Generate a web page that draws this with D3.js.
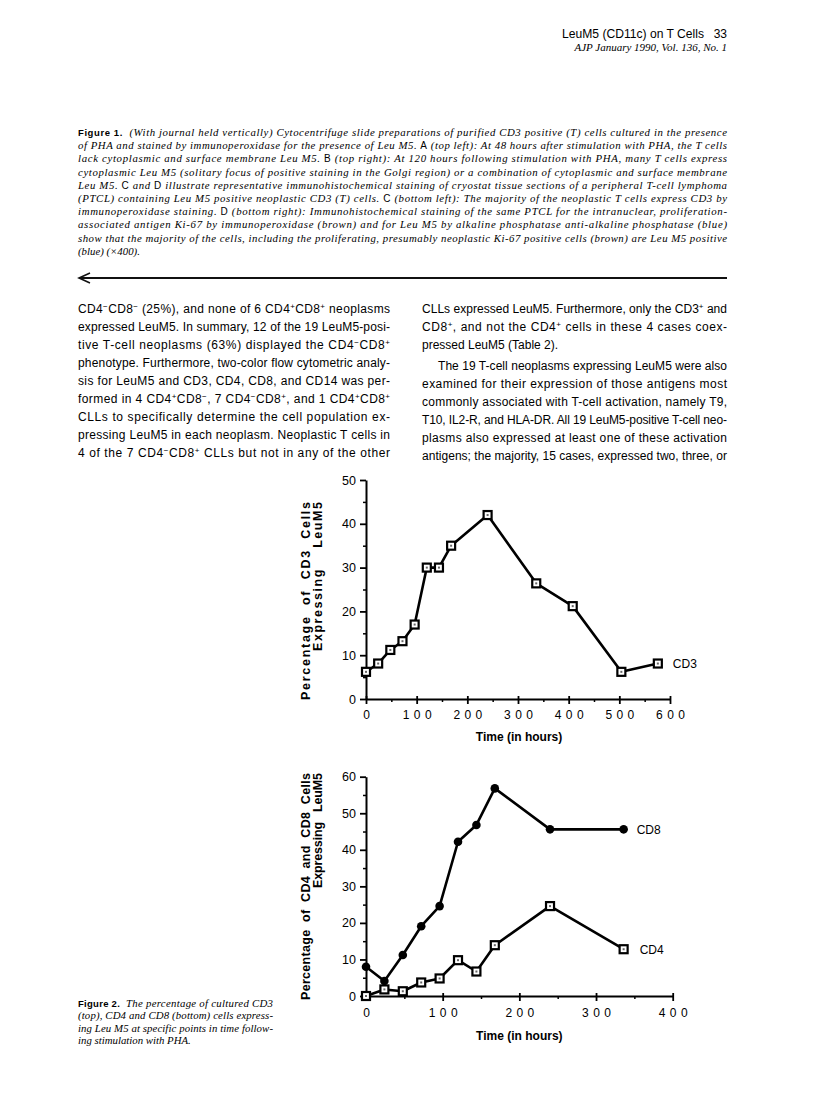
<!DOCTYPE html>
<html><head><meta charset="utf-8">
<script src="https://cdn.jsdelivr.net/npm/d3@7"></script>
<style>
body{margin:0;background:#fff;}
svg{display:block;}
.pre{white-space:pre;}
</style></head>
<body>
<svg id="page" width="816" height="1110"></svg>
<script>
// ---------- data ----------
const cd3Hours = [0, 24, 48, 72, 96, 120, 144, 168, 240, 336, 408, 504, 576];
const cd3Pct   = [6.2, 8.1, 11.2, 13.2, 17, 30, 30, 35, 42, 26.4, 21.2, 6.2, 8.1];
const cd48Hours = [0, 24, 48, 72, 96, 120, 144, 168, 240, 336];
const cd8Pct   = [8, 4.1, 11.2, 19.1, 24.6, 42.2, 46.8, 56.8, 45.6, 45.6];
const cd4Pct   = [0, 1.8, 1.3, 3.7, 4.8, 9.8, 6.7, 13.9, 24.6, 12.8];
const xTicksTop = [0, 100, 200, 300, 400, 500, 600];
const xMinorTop = [50, 150, 250, 350, 450, 550];
const yTicksTop = [0, 10, 20, 30, 40, 50];
const yMinorTop = [5, 15, 25, 35, 45];
const xTicksBottom = [0, 100, 200, 300, 400];
const xMinorBottom = [50, 150, 250, 350];
const yTicksBottom = [0, 10, 20, 30, 40, 50, 60];
const yMinorBottom = [5, 15, 25, 35, 45, 55];

// ---------- text ----------
const headerTitle = "LeuM5 (CD11c) on T Cells";
const headerPage = "33";
const headerJournal = "AJP January 1990, Vol. 136, No. 1";
const fig1Caption = [
  [["b","Figure 1."],["i","  (With journal held vertically) Cytocentrifuge slide preparations of purified CD3 positive (T) cells cultured in the presence"]],
  [["i","of PHA and stained by immunoperoxidase for the presence of Leu M5. "],["s","A"],["i"," (top left): At 48 hours after stimulation with PHA, the T cells"]],
  [["i","lack cytoplasmic and surface membrane Leu M5. "],["s","B"],["i"," (top right): At 120 hours following stimulation with PHA, many T cells express"]],
  [["i","cytoplasmic Leu M5 (solitary focus of positive staining in the Golgi region) or a combination of cytoplasmic and surface membrane"]],
  [["i","Leu M5. "],["s","C"],["i"," and "],["s","D"],["i"," illustrate representative immunohistochemical staining of cryostat tissue sections of a peripheral T-cell lymphoma"]],
  [["i","(PTCL) containing Leu M5 positive neoplastic CD3 (T) cells. "],["s","C"],["i"," (bottom left): The majority of the neoplastic T cells express CD3 by"]],
  [["i","immunoperoxidase staining. "],["s","D"],["i"," (bottom right): Immunohistochemical staining of the same PTCL for the intranuclear, proliferation-"]],
  [["i","associated antigen Ki-67 by immunoperoxidase (brown) and for Leu M5 by alkaline phosphatase anti-alkaline phosphatase (blue)"]],
  [["i","show that the majority of the cells, including the proliferating, presumably neoplastic Ki-67 positive cells (brown) are Leu M5 positive"]],
  [["i","(blue) (×400)."]]
];
const leftColumn = [
  "CD4⁻CD8⁻ (25%), and none of 6 CD4⁺CD8⁺ neoplasms",
  "expressed LeuM5. In summary, 12 of the 19 LeuM5-posi-",
  "tive T-cell neoplasms (63%) displayed the CD4⁻CD8⁺",
  "phenotype. Furthermore, two-color flow cytometric analy-",
  "sis for LeuM5 and CD3, CD4, CD8, and CD14 was per-",
  "formed in 4 CD4⁺CD8⁻, 7 CD4⁻CD8⁺, and 1 CD4⁺CD8⁺",
  "CLLs to specifically determine the cell population ex-",
  "pressing LeuM5 in each neoplasm. Neoplastic T cells in",
  "4 of the 7 CD4⁻CD8⁺ CLLs but not in any of the other"
];
const rightColumn = [
  "CLLs expressed LeuM5. Furthermore, only the CD3⁺ and",
  "CD8⁺, and not the CD4⁺ cells in these 4 cases coex-",
  "pressed LeuM5 (Table 2).",
  "The 19 T-cell neoplasms expressing LeuM5 were also",
  "examined for their expression of those antigens most",
  "commonly associated with T-cell activation, namely T9,",
  "T10, IL2-R, and HLA-DR. All 19 LeuM5-positive T-cell neo-",
  "plasms also expressed at least one of these activation",
  "antigens; the majority, 15 cases, expressed two, three, or"
];
const fig2Caption = [
  [["b","Figure 2."],["i","  The percentage of cultured CD3"]],
  [["i","(top), CD4 and CD8 (bottom) cells express-"]],
  [["i","ing Leu M5 at specific points in time follow-"]],
  [["i","ing stimulation with PHA."]]
];

const svg = d3.select("#page");
const SANS = "'Liberation Sans', Arial, Helvetica, sans-serif";
const SERIF = "'Liberation Serif', 'Times New Roman', serif";

// header
svg.append("text").attr("x", 727).attr("y", 38).attr("text-anchor","end")
  .style("font-family", SANS).style("font-size","12px").text(headerPage);
svg.append("text").attr("x", 704).attr("y", 38).attr("text-anchor","end")
  .style("font-family", SANS).style("font-size","12px").attr("textLength", 142).attr("lengthAdjust","spacingAndGlyphs").text(headerTitle);
svg.append("text").attr("x", 727).attr("y", 51).attr("text-anchor","end")
  .style("font-family", SERIF).style("font-style","italic").style("font-size","11px").text(headerJournal);

function richLine(x, y, width, segs, justify) {
  const t = svg.append("text").attr("x", x).attr("y", y).attr("class","pre");
  segs.forEach(([k, s]) => {
    const ts = t.append("tspan").text(s);
    if (k === "b") ts.style("font-family", SANS).style("font-weight","bold").style("font-size","9.5px");
    else if (k === "s") ts.style("font-family", SANS).style("font-size","10px");
    else ts.style("font-family", SERIF).style("font-style","italic").style("font-size","10.8px");
  });
  if (justify) t.attr("textLength", width).attr("lengthAdjust","spacing");
  return t;
}
fig1Caption.forEach((segs, i) => {
  richLine(78, 136 + i * 13.2, 649, segs, i < fig1Caption.length - 1);
});
fig2Caption.forEach((segs, i) => {
  richLine(78, 1006.5 + i * 12.6, 195, segs, i < fig2Caption.length - 1);
});

// arrow
svg.append("line").attr("x1", 80).attr("x2", 727).attr("y1", 278).attr("y2", 278)
  .attr("stroke","#111").attr("stroke-width", 2);
svg.append("path").attr("d","M90,273 L79,278 L90,283").attr("fill","none")
  .attr("stroke","#111").attr("stroke-width", 1.6);

// body text with superscripts
function bodyLine(x, y, width, str, justify, indent) {
  const t = svg.append("text").attr("x", x + (indent||0)).attr("y", y)
    .style("font-family", SANS).style("font-size","12px");
  const parts = str.split(/([⁺⁻])/);
  let sup = false;
  parts.forEach(p => {
    if (p === "") return;
    if (p === "⁺" || p === "⁻") {
      t.append("tspan").attr("dy", sup ? 0 : -4.5).style("font-size","8px").text(p === "⁺" ? "+" : "−");
      sup = true;
    } else {
      t.append("tspan").attr("dy", sup ? 4.5 : 0).text(p);
      sup = false;
    }
  });
  if (justify) t.attr("textLength", width - (indent||0)).attr("lengthAdjust","spacing");
}
leftColumn.forEach((s, i) => bodyLine(78, 313 + i * 18, 312, s, true, 0));
rightColumn.forEach((s, i) => {
  const y = 313 + i * 18 + (i >= 3 ? 3 : 0);
  bodyLine(422, y, 305, s, i !== 2, i === 3 ? 16 : 0);
});

// ---------- charts ----------
function drawChart(cfg) {
  const g = svg.append("g");
  const x = d3.scaleLinear().domain(cfg.xDomain).range(cfg.xRange);
  const y = d3.scaleLinear().domain(cfg.yDomain).range(cfg.yRange);
  const x0 = cfg.xRange[0], yb = cfg.yRange[0];

  // minor ticks
  g.append("g").attr("transform", `translate(0,${yb})`)
    .call(d3.axisBottom(x).tickValues(cfg.xMinor).tickSize(3).tickFormat(""))
    .call(a => a.select(".domain").remove())
    .selectAll("line").attr("stroke","#000").attr("stroke-width",1.5);
  g.append("g").attr("transform", `translate(${x0},0)`)
    .call(d3.axisLeft(y).tickValues(cfg.yMinor).tickSize(3).tickFormat(""))
    .call(a => a.select(".domain").remove())
    .selectAll("line").attr("stroke","#000").attr("stroke-width",1.5);

  // major axes
  const xa = g.append("g").attr("transform", `translate(0,${yb})`)
    .call(d3.axisBottom(x).tickValues(cfg.xTicks).tickSize(5).tickSizeOuter(0).tickFormat(d3.format("d")));
  xa.select(".domain").attr("stroke","#000").attr("stroke-width",2);
  xa.selectAll(".tick line").attr("stroke","#000").attr("stroke-width",1.8).attr("y1",-3);
  xa.selectAll(".tick text").attr("y", cfg.xLabelOffset).attr("dy", 0).attr("dx", 2.2)
    .style("font-family", SANS).style("font-size","12px").style("letter-spacing","4.4px").attr("fill","#000");

  const ya = g.append("g").attr("transform", `translate(${x0},0)`)
    .call(d3.axisLeft(y).tickValues(cfg.yTicks).tickSize(6).tickSizeOuter(0).tickPadding(4).tickFormat(d3.format("d")));
  ya.select(".domain").attr("stroke","#000").attr("stroke-width",2);
  ya.selectAll(".tick line").attr("stroke","#000").attr("stroke-width",1.8);
  ya.selectAll(".tick text").style("font-family", SANS).style("font-size","12.5px").attr("fill","#000");

  // axis titles
  g.append("text").attr("x", (cfg.xRange[0] + cfg.xRange[1]) / 2 + cfg.xTitleDx).attr("y", yb + cfg.xTitleOffset)
    .attr("text-anchor","middle").style("font-family", SANS).style("font-weight","bold").style("font-size","12px")
    .text("Time (in hours)");
  cfg.yTitle.forEach((line, i) => {
    g.append("text").attr("class","pre").attr("transform", `translate(${cfg.yTitleX[i]},${cfg.yTitleTop}) rotate(-90)`)
      .attr("text-anchor","end").attr("textLength", cfg.yTitleLen[i]).attr("lengthAdjust","spacing")
      .style("font-family", SANS).style("font-weight","bold").style("font-size","12.5px")
      .text(line);
  });

  // series
  const line = d3.line().x(d => x(d[0])).y(d => y(d[1]));
  cfg.series.forEach(s => {
    const pts = s.hours.map((h, i) => [h, s.values[i]]);
    g.append("path").datum(pts).attr("d", line).attr("fill","none")
      .attr("stroke","#000").attr("stroke-width",2.6).attr("stroke-linejoin","round");
    if (s.marker === "square") {
      g.selectAll(null).data(pts).enter().append("rect")
        .attr("x", d => x(d[0]) - 4).attr("y", d => y(d[1]) - 4).attr("width", 8).attr("height", 8)
        .attr("fill","#fff").attr("stroke","#000").attr("stroke-width",2.2);
      g.selectAll(null).data(pts).enter().append("rect")
        .attr("x", d => x(d[0]) - 1).attr("y", d => y(d[1]) - 1).attr("width", 2).attr("height", 2)
        .attr("fill","#666");
    } else {
      g.selectAll(null).data(pts).enter().append("circle")
        .attr("cx", d => x(d[0])).attr("cy", d => y(d[1])).attr("r", 4.3).attr("fill","#000");
    }
    const last = pts[pts.length - 1];
    g.append("text").attr("x", x(last[0]) + s.labelDx).attr("y", y(last[1]) + 4.5)
      .style("font-family", SANS).style("font-size","12px").text(s.name);
  });
}

drawChart({
  xDomain: [0, 600], xRange: [366, 670],
  yDomain: [0, 50], yRange: [699, 480],
  xTicks: xTicksTop, xMinor: xMinorTop, yTicks: yTicksTop, yMinor: yMinorTop,
  xLabelOffset: 20, xTitleOffset: 42, xTitleDx: 1,
  yTitle: ["Percentage  of  CD3  Cells", "Expressing    LeuM5"],
  yTitleX: [310, 322], yTitleTop: 502, yTitleLen: [198, 149],
  series: [{ name: "CD3", hours: cd3Hours, values: cd3Pct, marker: "square", labelDx: 15 }]
});
drawChart({
  xDomain: [0, 400], xRange: [366, 672.7],
  yDomain: [0, 60], yRange: [996, 776.7],
  xTicks: xTicksBottom, xMinor: xMinorBottom, yTicks: yTicksBottom, yMinor: yMinorBottom,
  xLabelOffset: 21, xTitleOffset: 44, xTitleDx: 0,
  yTitle: ["Percentage  of  CD4  and  CD8  Cells", "Expressing   LeuM5"],
  yTitleX: [310, 322], yTitleTop: 773, yTitleLen: [227, 115],
  series: [
    { name: "CD8", hours: cd48Hours, values: cd8Pct, marker: "circle", labelDx: 13 },
    { name: "CD4", hours: cd48Hours, values: cd4Pct, marker: "square", labelDx: 16 }
  ]
});
</script>
</body></html>
